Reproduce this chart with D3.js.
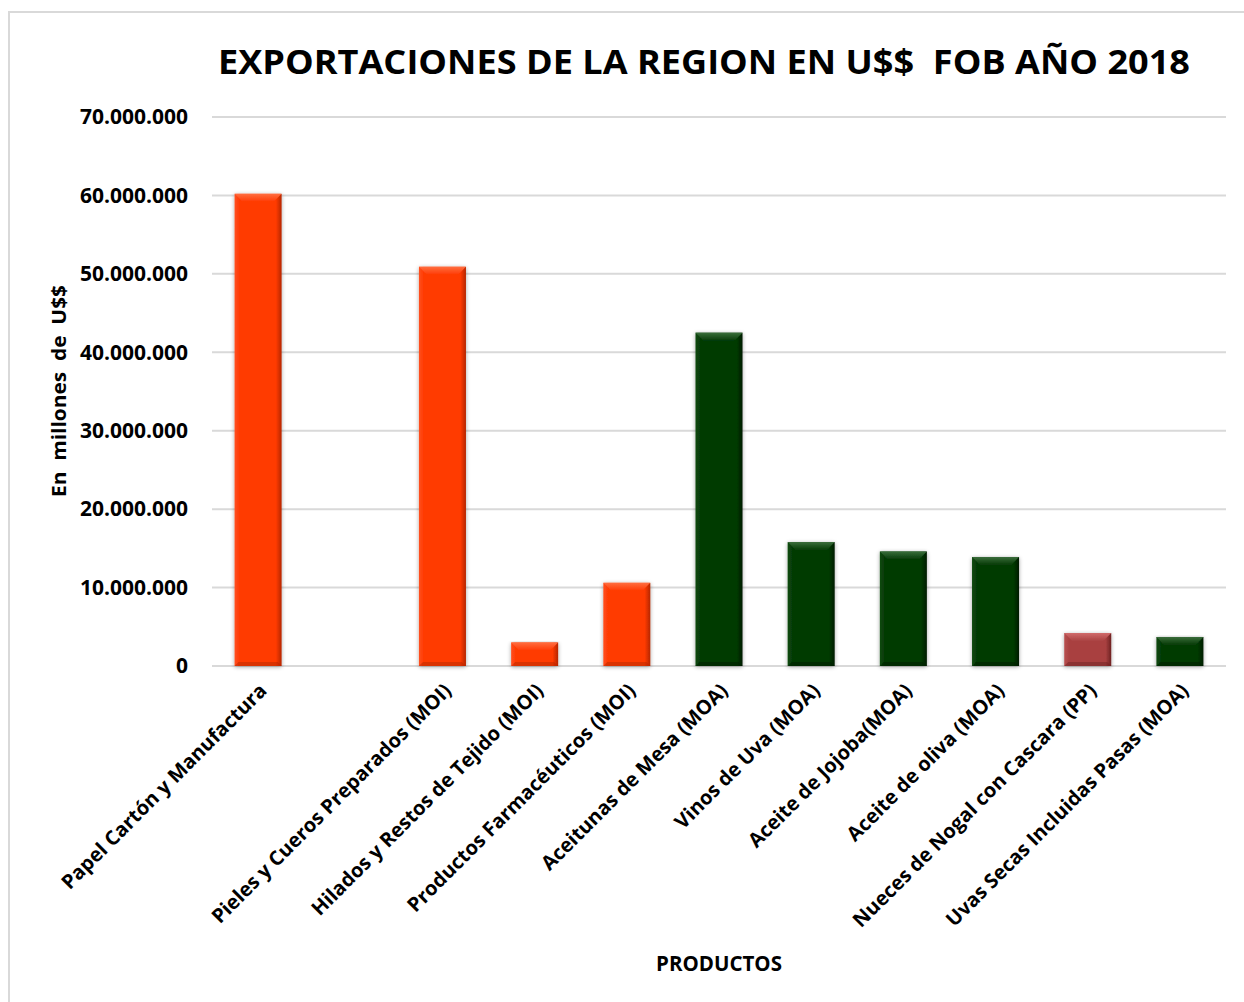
<!DOCTYPE html>
<html><head><meta charset="utf-8">
<script src="https://cdn.jsdelivr.net/npm/d3@7"></script>
<style>
html,body{margin:0;padding:0;background:#fff;}
svg text{font-family:"Open Sans",sans-serif;font-weight:700;fill:#000;white-space:pre;}
</style></head>
<body>
<svg id="c" width="1244" height="1002"></svg>
<script>
const categories = ["Papel Cartón y Manufactura", "", "Pieles y Cueros Preparados (MOI)", "Hilados y Restos de Tejido (MOI)", "Productos Farmacéuticos (MOI)", "Aceitunas de Mesa (MOA)", "Vinos de Uva (MOA)", "Aceite de Jojoba(MOA)", "Aceite de oliva (MOA)", "Nueces de Nogal con Cascara (PP)", "Uvas Secas Incluidas Pasas (MOA)"];
const values = [60200000, null, 50900000, 3000000, 10600000, 42500000, 15800000, 14600000, 13900000, 4200000, 3700000];
const sectors = ["MOI", "MOI", "MOI", "MOI", "MOI", "MOA", "MOA", "MOA", "MOA", "PP", "MOA"];
const yTicks = [0, 10000000, 20000000, 30000000, 40000000, 50000000, 60000000, 70000000];
const title = "EXPORTACIONES DE LA REGION EN U$$  FOB AÑO 2018";
const yTitle = "En  millones  de  U$$";
const xTitle = "PRODUCTOS";

const palette = {
  MOI: {base:"#ff3a03", top:"#ff6d40", dark:"#b52600", light:"#ff5020"},
  MOA: {base:"#053a06", top:"#3a6d3a", dark:"#021c02", light:"#0d4a0e"},
  PP:  {base:"#a94141", top:"#d06a6a", dark:"#6e2020", light:"#b85050"}
};

const svg = d3.select("#c");
const W = 1244, H = 1002;
const m = {left:212, right:1226, top:117, bottom:666};

// outer border
svg.append("rect").attr("x",9).attr("y",12).attr("width",W).attr("height",H)
  .attr("fill","none").attr("stroke","#d9d9d9").attr("stroke-width",2);

const x = d3.scaleBand().domain(d3.range(categories.length)).range([m.left, m.right]).paddingInner(0.49).paddingOuter(0.245);
const y = d3.scaleLinear().domain([0,70000000]).range([m.bottom, m.top]);

const fmt = v => v === 0 ? "0" : d3.format(",")(v).replace(/,/g,".");

// gridlines
svg.append("g").selectAll("line").data(yTicks).join("line")
  .attr("x1",m.left).attr("x2",m.right)
  .attr("y1",d=>y(d)).attr("y2",d=>y(d))
  .attr("stroke","#d9d9d9").attr("stroke-width",2);

// y axis labels
const yAxis = d3.axisLeft(y).tickValues(yTicks).tickFormat(fmt).tickSize(0).tickPadding(0);
const ga = svg.append("g").attr("transform",`translate(188,0)`).call(yAxis);
ga.select(".domain").remove();
ga.selectAll("text").attr("font-size",21).attr("font-family","'Open Sans',sans-serif").attr("font-weight",700).attr("fill","#000");

// defs
const defs = svg.append("defs");
const f = defs.append("filter").attr("id","sh").attr("x","-30%").attr("y","-10%").attr("width","160%").attr("height","130%");
f.append("feGaussianBlur").attr("in","SourceAlpha").attr("stdDeviation",2).attr("result","b");
f.append("feOffset").attr("in","b").attr("dx",0).attr("dy",1).attr("result","o");
f.append("feComponentTransfer").attr("in","o").attr("result","o2").append("feFuncA").attr("type","linear").attr("slope",0.35);
const mg = f.append("feMerge"); mg.append("feMergeNode").attr("in","o2"); mg.append("feMergeNode").attr("in","SourceGraphic");

Object.entries(palette).forEach(([k,p])=>{
  const g = defs.append("linearGradient").attr("id","g"+k).attr("x1",0).attr("x2",1).attr("y1",0).attr("y2",0);
  g.append("stop").attr("offset","0").attr("stop-color",p.light);
  g.append("stop").attr("offset","0.1").attr("stop-color",p.base);
  g.append("stop").attr("offset","0.88").attr("stop-color",p.base);
  g.append("stop").attr("offset","1").attr("stop-color",p.dark);
  const t = defs.append("linearGradient").attr("id","t"+k).attr("x1",0).attr("x2",0).attr("y1",0).attr("y2",1);
  t.append("stop").attr("offset","0").attr("stop-color",p.top);
  t.append("stop").attr("offset","1").attr("stop-color",p.base);
});

const data = categories.map((c,i)=>({i, c, v: values[i], s: sectors[i]})).filter(d=>d.v!=null);
const bars = svg.append("g").selectAll("g").data(data).join("g").attr("filter","url(#sh)");
bars.append("rect")
  .attr("x",d=>x(d.i)).attr("width",x.bandwidth())
  .attr("y",d=>y(d.v)).attr("height",d=>y(0)-y(d.v))
  .attr("fill",d=>`url(#g${d.s})`);
// top bevel
bars.append("path").attr("d",d=>{
  const x0=x(d.i), x1=x0+x.bandwidth(), y0=y(d.v), b=Math.min(8,(y(0)-y(d.v))/2);
  return `M${x0},${y0}L${x1},${y0}L${x1-b},${y0+b}L${x0+b},${y0+b}Z`;
}).attr("fill",d=>`url(#t${d.s})`);
// bottom bevel
bars.append("path").attr("d",d=>{
  const x0=x(d.i), x1=x0+x.bandwidth(), y1=y(0), b=Math.min(4,(y(0)-y(d.v))/2);
  return `M${x0},${y1}L${x1},${y1}L${x1-b},${y1-b}L${x0+b},${y1-b}Z`;
}).attr("fill",d=>palette[d.s].dark).attr("opacity",0.5);

// x labels
svg.append("g").selectAll("text").data(categories.map((c,i)=>({c,i}))).join("text")
  .attr("transform",d=>`translate(${x(d.i)+x.bandwidth()/2+10},${692}) rotate(-45)`)
  .attr("text-anchor","end").attr("font-size",20).text(d=>d.c);

// titles
svg.append("text").attr("x",704).attr("y",74).attr("text-anchor","middle").attr("font-size",34)
  .attr("textLength",972).attr("lengthAdjust","spacingAndGlyphs").text(title);
svg.append("text").attr("transform",`translate(66,391) rotate(-90)`).attr("text-anchor","middle").attr("font-size",19)
  .attr("textLength",212).attr("lengthAdjust","spacingAndGlyphs").text(yTitle);
svg.append("text").attr("x",719).attr("y",971).attr("text-anchor","middle").attr("font-size",20.5).text(xTitle);
</script>
</body></html>
